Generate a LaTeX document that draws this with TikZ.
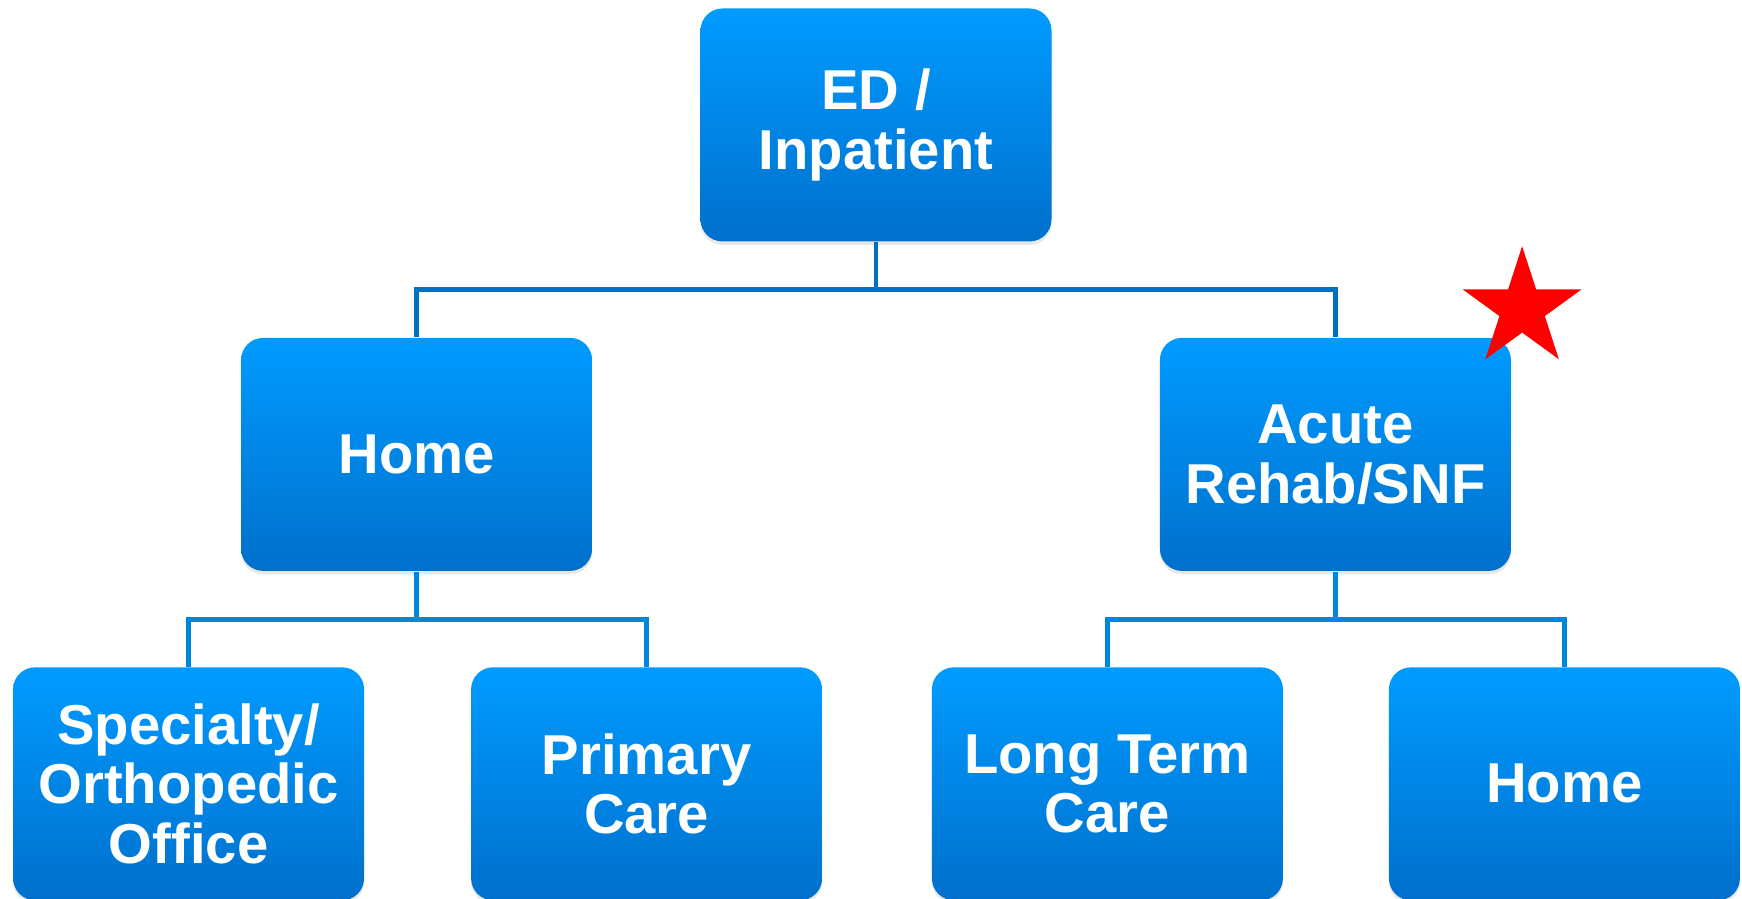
\documentclass[tikz,border=0pt]{standalone}
\usepackage{fontspec}
\setmainfont{Liberation Sans}
\usetikzlibrary{positioning,shapes.geometric,shadows}
\definecolor{boxtop}{RGB}{0,155,255}
\definecolor{boxbottom}{RGB}{0,112,204}
\definecolor{linkdark}{RGB}{0,112,192}
\definecolor{linklight}{RGB}{0,134,218}
\tikzset{
	carebox/.style={
		rectangle,
		rounded corners=0.22cm,
		top color=boxtop,
		bottom color=boxbottom,
		draw=none,
		minimum width=3.51cm,
		minimum height=2.33cm,
		inner sep=0pt,
		align=center,
		text=white,
		font=\fontsize{16}{17}\selectfont\bfseries,
		drop shadow={opacity=0.18, shadow xshift=0cm, shadow yshift=-0.035cm}},
	link/.style={
		draw=linkdark,
		line width=1.4pt},
	sublink/.style={
		link,
		draw=linklight},
	flagstar/.style={
		star,
		star points=5,
		star point ratio=2.618,
		minimum size=1.25cm,
		inner sep=0pt,
		fill=red,
		draw=none}
}

\begin{document}
\begin{tikzpicture}[
			node distance = 0.95cm,
			]
    \useasboundingbox (0,0) rectangle (17.42,-8.99);

    \node[carebox] (ED) at (8.76,-1.25) {ED /\\Inpatient};
    \node[carebox, below left=0.95cm and 1.07cm of ED] (HOME) {Home};
    \node[carebox, below right=0.95cm and 1.07cm of ED] (REHAB) {Acute\\Rehab/SNF};

    \node[carebox, below=of HOME, xshift=-2.28cm] (SPEC) {Specialty/\\Orthopedic\\Office};
    \node[carebox, below=of HOME, xshift=2.30cm] (PC) {Primary\\Care};
    \node[carebox, below=of REHAB, xshift=-2.28cm] (LTC) {Long Term\\Care};
    \node[carebox, below=of REHAB, xshift=2.29cm] (HOMEB) {Home};

    \node[flagstar] (STAR) at ([shift={(0.105,0.285)}]REHAB.north east) {};

    \draw[link] (ED.south) -- ++(0,-0.475) -| (HOME.north);
    \draw[link] (ED.south) -- ++(0,-0.475) -| (REHAB.north);

    \draw[sublink] (HOME.south) -- ++(0,-0.475) -| (SPEC.north);
    \draw[sublink] (HOME.south) -- ++(0,-0.475) -| (PC.north);
    \draw[sublink] (REHAB.south) -- ++(0,-0.475) -| (LTC.north);
    \draw[sublink] (REHAB.south) -- ++(0,-0.475) -| (HOMEB.north);
		\end{tikzpicture}
\end{document}
